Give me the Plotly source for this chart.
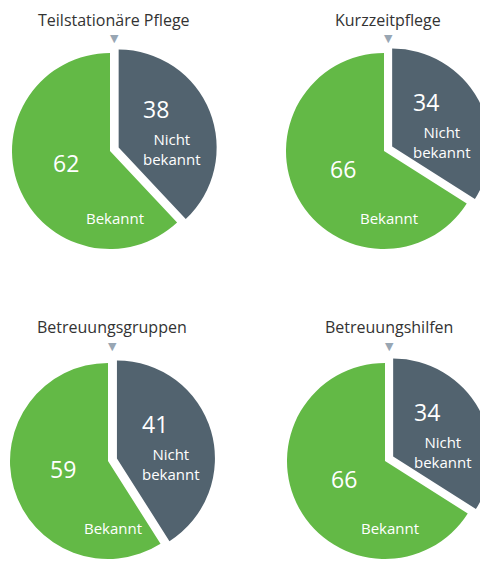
import math
import plotly.graph_objects as go

# data
titles = ["Teilstationäre Pflege", "Kurzzeitpflege", "Betreuungsgruppen", "Betreuungshilfen"]
slice_labels = ["Nicht bekannt", "Bekannt"]
nicht_bekannt = [38, 34, 41, 34]
bekannt = [62, 66, 59, 66]

GREEN = "#63b946"
GREY = "#52636f"
MARKER = "#98a6b3"
FONT = "Open Sans"

W, H = 495, 572
R = 98          # pie radius in px
PULL = 0.095
# pie centres in px (from top-left)
centers = [(110, 151), (384, 151), (108, 461), (385, 461)]
title_y = [20, 20, 327, 327]


def px(x, y):
    return x / W, 1 - y / H


fig = go.Figure()
annotations = []

for i, (cx, cy) in enumerate(centers):
    half = R * (1 + PULL)
    fig.add_trace(go.Pie(
        labels=slice_labels,
        values=[nicht_bekannt[i], bekannt[i]],
        sort=False, direction="clockwise", rotation=0,
        pull=[PULL, 0],
        marker=dict(colors=[GREY, GREEN], line=dict(width=0)),
        textinfo="none", hoverinfo="label+value", showlegend=False,
        domain=dict(x=[(cx - half) / W, (cx + half) / W],
                    y=[1 - (cy + half) / H, 1 - (cy - half) / H]),
    ))

    total = nicht_bekannt[i] + bekannt[i]
    # grey slice: number above label, block on the bisector
    a = math.radians(180 * nicht_bekannt[i] / total)
    bx, by = cx + 0.61 * R * math.sin(a), cy - 0.61 * R * math.cos(a)
    x, y = px(bx - 10, by - 20)
    annotations.append(dict(x=x, y=y, text=str(nicht_bekannt[i]),
                            font=dict(size=23, color="white", family=FONT)))
    x, y = px(bx + 6, by + 20)
    annotations.append(dict(x=x, y=y, text="Nicht<br>bekannt",
                            font=dict(size=15, color="white", family=FONT)))

    # green slice
    g = math.radians(360 * nicht_bekannt[i] / total + 180 * bekannt[i] / total)
    x, y = px(cx + 0.48 * R * math.sin(g), cy - 0.48 * R * math.cos(g) - 5)
    annotations.append(dict(x=x, y=y, text=str(bekannt[i]),
                            font=dict(size=23, color="white", family=FONT)))
    x, y = px(cx + 5, cy + 67)
    annotations.append(dict(x=x, y=y, text="Bekannt",
                            font=dict(size=15, color="white", family=FONT)))

    # title and small marker
    x, y = px(cx + 4, title_y[i])
    annotations.append(dict(x=x, y=y, text=titles[i],
                            font=dict(size=16, color="#333333", family=FONT)))
    x, y = px(cx + 4, title_y[i] + 19)
    annotations.append(dict(x=x, y=y, text="▼",
                            font=dict(size=11, color=MARKER, family="DejaVu Sans")))

for a in annotations:
    a.update(xref="paper", yref="paper", showarrow=False,
             xanchor="center", yanchor="middle")

fig.update_layout(
    width=W, height=H,
    margin=dict(l=0, r=0, t=0, b=0),
    paper_bgcolor="white", plot_bgcolor="white",
    annotations=annotations,
)

fig.write_html("out.html", config={"displayModeBar": False},
               post_script="document.body.style.margin='0';document.body.style.overflow='hidden';")
